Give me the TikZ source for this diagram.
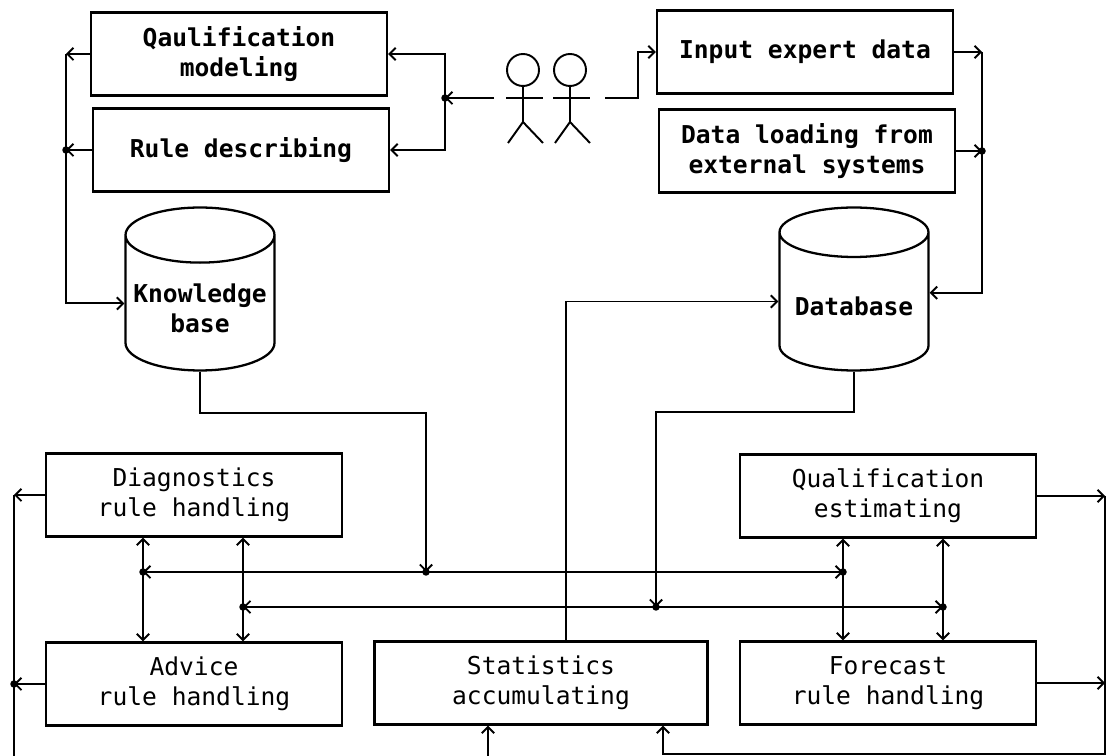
\documentclass[tikz,border=0pt]{standalone}
\usepackage{fontspec}
\setmonofont{DejaVu Sans Mono}
\usetikzlibrary{arrows.meta,shapes.geometric}

\begin{document}
\begin{tikzpicture}[x=0.02cm,y=-0.02cm,
  box/.style={draw, line width=1.3pt, minimum width=5.92cm, minimum height=1.66cm,
    align=center, font=\ttfamily\fontsize{14}{17}\selectfont},
  topbox/.style={box, font=\ttfamily\bfseries\fontsize{14}{17}\selectfont},
  store/.style={cylinder, shape border rotate=90, draw, line width=1.3pt, aspect=0.38,
    minimum width=2.98cm, minimum height=3.26cm, anchor=shape center,
    align=center, font=\ttfamily\bfseries\fontsize{14}{17}\selectfont},
  con/.style={line width=1.1pt, -{Straight Barb[length=3.5pt,width=7pt]}},
  dcon/.style={line width=1.1pt, {Straight Barb[length=3.5pt,width=7pt]}-{Straight Barb[length=3.5pt,width=7pt]}},
  dot/.style={circle, fill, inner sep=0pt, minimum size=0.15cm},
  man/.style={line width=1.1pt}]
  \useasboundingbox (0,0) rectangle (1106,756);

  % input side
  \node[topbox] (qm) at (239,54) {Qaulification\\modeling};
  \node[topbox] (rd) at (241,150) {Rule describing};
  \node[store] (kb) at (200,289) {Knowledge\\base};

  \node[topbox] (ied) at (805,52) {Input expert data};
  \node[topbox] (dl) at (807,151) {Data loading from\\external systems};
  \node[store] (db) at (854,289) {Database};

  % processing
  \node[box] (diag) at (194,495) {Diagnostics\\rule handling};
  \node[box] (adv) at (194,684) {Advice\\rule handling};
  \node[box, minimum width=6.66cm] (stat) at (541,683) {Statistics\\accumulating};
  \node[box] (qe) at (888,496) {Qualification\\estimating};
  \node[box] (fc) at (888,683) {Forecast\\rule handling};

  % experts
  \foreach \x in {523,570} {
    \draw[man] (\x,70) circle (0.32cm);
    \draw[man] (\x,86) -- (\x,122);
    \draw[man] (\x-17,98) -- (\x+20,98);
    \draw[man] (\x-15,143) -- (\x,122) -- (\x+20,143);
  }

  \coordinate (lbus) at (66,0);
  \coordinate (rbus) at (982,0);
  \coordinate (ja) at (445,98);
  \coordinate (al) at (494,98);
  \coordinate (ar) at (605,98);
  \node[dot] at (ja) {};
  \draw[con] (al) -- (ja);
  \draw[con] (ja) |- (qm.east);
  \draw[con] (ja) |- (rd.east);
  \draw[con] (ar) -- ++(33,0) |- (ied.west);

  \draw[con] (qm.west) -- (qm.west -| lbus);
  \draw[con] (rd.west) -- (rd.west -| lbus) node[dot] {};
  \draw[con] (qm.west -| lbus) |- ([yshift=3pt]kb.west);

  \draw[con] (ied.east) -- (ied.east -| rbus);
  \draw[con] (dl.east) -- (dl.east -| rbus) node[dot] {};
  \draw[con] (ied.east -| rbus) |- ([yshift=8pt]db.east);

  % buses
  \coordinate (d1) at (143,572);
  \coordinate (d2) at (843,572);
  \coordinate (e1) at (243,607);
  \coordinate (e2) at (943,607);
  \coordinate (k1) at (426,572);
  \coordinate (b1) at (656,607);
  \foreach \p in {d1,d2,e1,e2,k1,b1} \node[dot] at (\p) {};
  \draw[dcon] (d1) -- (d2);
  \draw[dcon] (e1) -- (e2);
  \draw[con] (kb.south) -- (kb.south |- 0,413) -| (k1);
  \draw[con] (db.south) -- (db.south |- 0,412) -| (b1);

  \draw[dcon] (diag.south -| d1) -- (adv.north -| d1);
  \draw[dcon] (diag.south -| e1) -- (adv.north -| e1);
  \draw[dcon] (qe.south -| d2) -- (fc.north -| d2);
  \draw[dcon] (qe.south -| e2) -- (fc.north -| e2);

  \coordinate (s1) at (566,0);
  \draw[con] (stat.north -| s1) |- ([yshift=3pt]db.west);

  % outputs
  \coordinate (lout) at (14,0);
  \coordinate (rout) at (1105,0);
  \coordinate (s2) at (488,0);
  \coordinate (s3) at (663,0);
  \draw[con] (diag.west) -- (diag.west -| lout);
  \draw[con] (adv.west) -- (adv.west -| lout) node[dot] {};
  \draw[con] (diag.west -| lout) -- (14,766) -| (stat.south -| s2);
  \draw[con] (qe.east) -- (qe.east -| rout);
  \draw[con] (fc.east) -- (fc.east -| rout);
  \draw[con] (qe.east -| rout) -- (1105,754) -| (stat.south -| s3);
\end{tikzpicture}
\end{document}
